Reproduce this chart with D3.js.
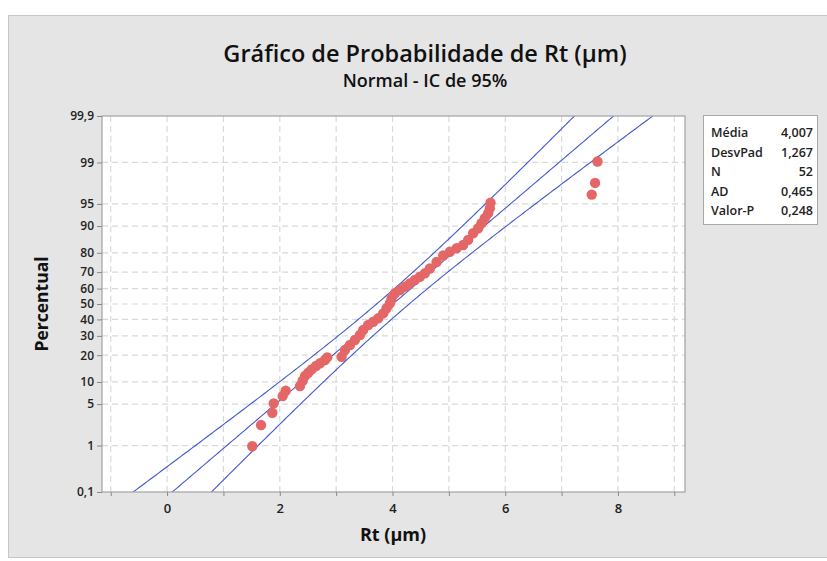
<!DOCTYPE html>
<html><head><meta charset="utf-8">
<script src="https://cdn.jsdelivr.net/npm/d3@7"></script>
<style>
html,body{margin:0;padding:0;background:#fff;}
svg{display:block;font-family:"Open Sans","Noto Sans",sans-serif;}
</style></head>
<body>
<svg id="c" width="827" height="561"></svg>
<script>
// ---- data ----
const rtValues = [1.512,1.667,1.867,1.892,2.051,2.105,2.358,2.406,2.447,2.505,2.566,2.642,2.713,2.801,2.842,
  3.097,3.156,3.245,3.333,3.422,3.480,3.569,3.658,3.746,3.835,3.895,3.954,3.984,4.043,4.131,4.220,4.309,4.397,
  4.486,4.574,4.663,4.782,4.899,5.018,5.137,5.254,5.342,5.431,5.520,5.580,5.638,5.697,5.727,5.739,7.535,7.594,7.637];
const percentValues = [0.97,2.33,3.69,5.12,6.51,7.69,8.87,10.35,11.82,12.93,14.14,15.39,16.48,17.85,19.03,
  19.30,22.45,25.0,27.69,30.5,33.44,36.5,38.55,40.7,43.9,47.2,50.46,53.7,57.0,59.1,61.2,63.3,65.35,
  67.3,69.3,72.0,75.5,78.75,80.5,82.0,83.4,85.4,87.76,89.34,90.78,92.07,93.21,94.23,95.21,96.39,97.67,99.04];
const yTickPercents = [0.1,1,5,10,20,30,40,50,60,70,80,90,95,99,99.9];
const yTickLabels = ["0,1","1","5","10","20","30","40","50","60","70","80","90","95","99","99,9"];
const xTickValues = [-1,0,1,2,3,4,5,6,7,8,9];
const xTickLabels = ["","0","","2","","4","","6","","8",""];
const statLabels = ["Média","DesvPad","N","AD","Valor-P"];
const statValues = ["4,007","1,267","52","0,465","0,248"];
const fitMean = 4.007, fitSd = 1.267, fitN = 52, ciMult = 1.645;

// inverse normal CDF (Acklam)
function qnorm(p){
  const a=[-3.969683028665376e+01,2.209460984245205e+02,-2.759285104469687e+02,1.383577518672690e+02,-3.066479806614716e+01,2.506628277459239e+00];
  const b=[-5.447609879822406e+01,1.615858368580409e+02,-1.556989798598866e+02,6.680131188771972e+01,-1.328068155288572e+01];
  const c=[-7.784894002430293e-03,-3.223964580411365e-01,-2.400758277161838e+00,-2.549732539343734e+00,4.374664141464968e+00,2.938163982698783e+00];
  const d=[7.784695709041462e-03,3.224671290700398e-01,2.445134137142996e+00,3.754408661907416e+00];
  const pl=0.02425, ph=1-pl; let q,r;
  if(p<pl){q=Math.sqrt(-2*Math.log(p));return (((((c[0]*q+c[1])*q+c[2])*q+c[3])*q+c[4])*q+c[5])/((((d[0]*q+d[1])*q+d[2])*q+d[3])*q+1);}
  if(p<=ph){q=p-0.5;r=q*q;return (((((a[0]*r+a[1])*r+a[2])*r+a[3])*r+a[4])*r+a[5])*q/(((((b[0]*r+b[1])*r+b[2])*r+b[3])*r+b[4])*r+1);}
  q=Math.sqrt(-2*Math.log(1-p));return -(((((c[0]*q+c[1])*q+c[2])*q+c[3])*q+c[4])*q+c[5])/((((d[0]*q+d[1])*q+d[2])*q+d[3])*q+1);
}

const svg = d3.select("#c");
const L=102,R=685,T=116,B=492;
// panel
svg.append("rect").attr("x",8.5).attr("y",15.5).attr("width",830).attr("height",542)
  .attr("fill","#e5e5e5").attr("stroke","#c6c6c6");

const x = d3.scaleLinear().domain([-1.155,9.19]).range([L,R]);
const zMin = qnorm(0.001), zMax = qnorm(0.999);
const y = d3.scaleLinear().domain([zMin,zMax]).range([B,T]);

svg.append("rect").attr("x",L).attr("y",T).attr("width",R-L).attr("height",B-T).attr("fill","#fff");

// grid
const g = svg.append("g");
g.selectAll(".vg").data(xTickValues).join("line")
  .attr("x1",d=>x(d)).attr("x2",d=>x(d)).attr("y1",T).attr("y2",B)
  .attr("stroke","#d9d9d9").attr("stroke-width",1.2).attr("stroke-dasharray","6,4");
g.selectAll(".hg").data(yTickPercents.slice(1,-1)).join("line")
  .attr("x1",L).attr("x2",R).attr("y1",d=>y(qnorm(d/100))).attr("y2",d=>y(qnorm(d/100)))
  .attr("stroke","#d9d9d9").attr("stroke-width",1.2).attr("stroke-dasharray","6,4");

// clip
svg.append("clipPath").attr("id","clip").append("rect").attr("x",L).attr("y",T).attr("width",R-L).attr("height",B-T);

// fit + CI lines
const zs = d3.range(0,201).map(i=>zMin-0.3+(zMax-zMin+0.6)*i/200);
const hw = z=>ciMult*fitSd*Math.sqrt((1+z*z/2)/fitN);
const lineGen = d3.line().x(d=>x(d[0])).y(d=>y(d[1]));
const fits = [zs.map(z=>[fitMean+fitSd*z - hw(z), z]), zs.map(z=>[fitMean+fitSd*z, z]), zs.map(z=>[fitMean+fitSd*z + hw(z), z])];
svg.append("g").attr("clip-path","url(#clip)").selectAll("path").data(fits).join("path")
  .attr("d",lineGen).attr("fill","none").attr("stroke","#4358cc").attr("stroke-width",1.1);

// points
svg.append("g").selectAll("circle").data(rtValues).join("circle")
  .attr("cx",d=>x(d)).attr("cy",(d,i)=>y(qnorm(percentValues[i]/100))).attr("r",5.2)
  .attr("fill","#e46666");

// frame
svg.append("rect").attr("x",L).attr("y",T).attr("width",R-L).attr("height",B-T)
  .attr("fill","none").attr("stroke","#a8a8a8").attr("stroke-width",1.3);

// axes
const yAxis = d3.axisLeft(y).tickValues(yTickPercents.map(p=>qnorm(p/100)))
  .tickFormat((d,i)=>yTickLabels[i]).tickSize(5).tickPadding(3);
const ya = svg.append("g").attr("transform",`translate(${L},0)`).call(yAxis);
const xAxis = d3.axisBottom(x).tickValues(xTickValues).tickFormat((d,i)=>xTickLabels[i]).tickSize(4).tickPadding(8);
const xa = svg.append("g").attr("transform",`translate(0,${B})`).call(xAxis);
[ya,xa].forEach(a=>{
  a.select(".domain").remove();
  a.selectAll(".tick line").attr("stroke","#888");
  a.selectAll("text").attr("font-family","'Open Sans','Noto Sans',sans-serif").attr("font-size",12)
    .attr("font-weight",600).attr("fill","#222");
});
xa.selectAll("text").attr("font-size",13);

// titles
svg.append("text").attr("x",425).attr("y",62).attr("text-anchor","middle")
  .attr("font-size",23.5).attr("font-weight",600).attr("fill","#111").text("Gráfico de Probabilidade de Rt (µm)");
svg.append("text").attr("x",425).attr("y",87).attr("text-anchor","middle")
  .attr("font-size",18).attr("font-weight",600).attr("fill","#111").text("Normal - IC de 95%");
svg.append("text").attr("x",393).attr("y",541).attr("text-anchor","middle")
  .attr("font-size",18).attr("font-weight",700).attr("fill","#111").text("Rt (µm)");
svg.append("text").attr("transform","translate(48,304) rotate(-90)").attr("text-anchor","middle")
  .attr("font-size",17.5).attr("font-weight",700).attr("fill","#111").text("Percentual");

// stats box
const lb = svg.append("g");
lb.append("rect").attr("x",703.5).attr("y",115.5).attr("width",114).attr("height",109)
  .attr("fill","#fff").attr("stroke","#a8a8a8");
statLabels.forEach((s,i)=>{
  lb.append("text").attr("x",711).attr("y",137+i*19.5).attr("font-size",12.5).attr("font-weight",600)
    .attr("fill","#222").text(s);
  lb.append("text").attr("x",813).attr("y",137+i*19.5).attr("text-anchor","end").attr("font-size",12.5)
    .attr("font-weight",600).attr("fill","#222").text(statValues[i]);
});
</script>
</body></html>
